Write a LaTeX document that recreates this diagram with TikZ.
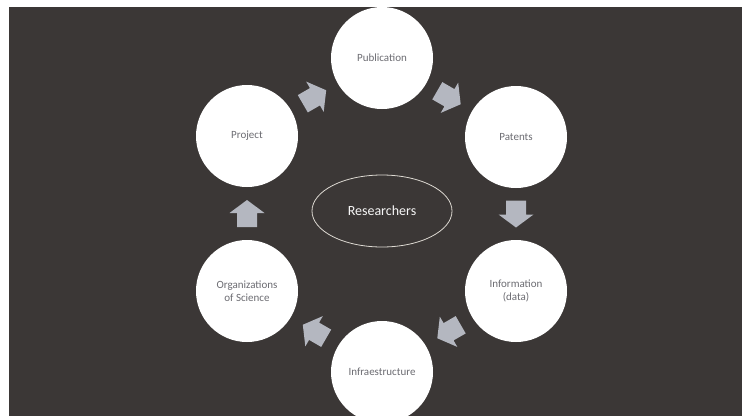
\documentclass[tikz,border=0pt]{standalone}
\usepackage{fontspec}
\setmainfont{Carlito}
\usetikzlibrary{calc,shapes.geometric}
\definecolor{bg}{HTML}{3B3736}
\definecolor{arr}{HTML}{B4B7C0}
\definecolor{ctext}{HTML}{6C6C72}
\definecolor{ring}{HTML}{DDD9D2}
\begin{document}
\begin{tikzpicture}[x=1pt,y=-1pt,
  cyc/.style={circle, fill=white, minimum size=102pt, inner sep=0pt, text=ctext,
    font=\fontsize{11}{13}\selectfont, align=center},
  centre/.style={ellipse, draw=ring, line width=0.8pt, minimum width=140pt, minimum height=72pt,
    inner sep=0pt, text=white!93!gray, font=\fontsize{14}{16}\selectfont},
  blockarr/.pic={\fill[arr] (-13.5pt,-10pt) -- (0.5pt,-10pt) -- (0.5pt,-17.5pt) -- (13.5pt,0pt)
    -- (0.5pt,17.5pt) -- (0.5pt,10pt) -- (-13.5pt,10pt) -- cycle;}]
\useasboundingbox (0,0) rectangle (742,416);
\clip (0,0) rectangle (742,416);
\fill[white] (0,0) rectangle (742,416);
\fill[bg] (9,7) rectangle (742,416);

\node[cyc] (pub)   at (382,58)  {Publication};
\node[cyc] (pat)   at (516,137) {Patents};
\node[cyc] (inf)   at (516,291) {Information\\(data)};
\node[cyc] (infra) at (382,372) {Infraestructure};
\node[cyc] (org)   at (247,291) {Organizations\\of Science};
\node[cyc] (proj)  at (247,136) {Project};

\node[centre] (res) at (382,211) {Researchers};

\pic[rotate=30]   at ($(proj)!0.5!(pub)$)   {blockarr};
\pic[rotate=-30]  at ($(pub)!0.5!(pat)$)    {blockarr};
\pic[rotate=-90]  at ($(pat)!0.5!(inf)$)    {blockarr};
\pic[rotate=-150] at ($(inf)!0.5!(infra)$)  {blockarr};
\pic[rotate=150]  at ($(infra)!0.5!(org)$)  {blockarr};
\pic[rotate=90]   at ($(org)!0.5!(proj)$)   {blockarr};
\end{tikzpicture}
\end{document}
